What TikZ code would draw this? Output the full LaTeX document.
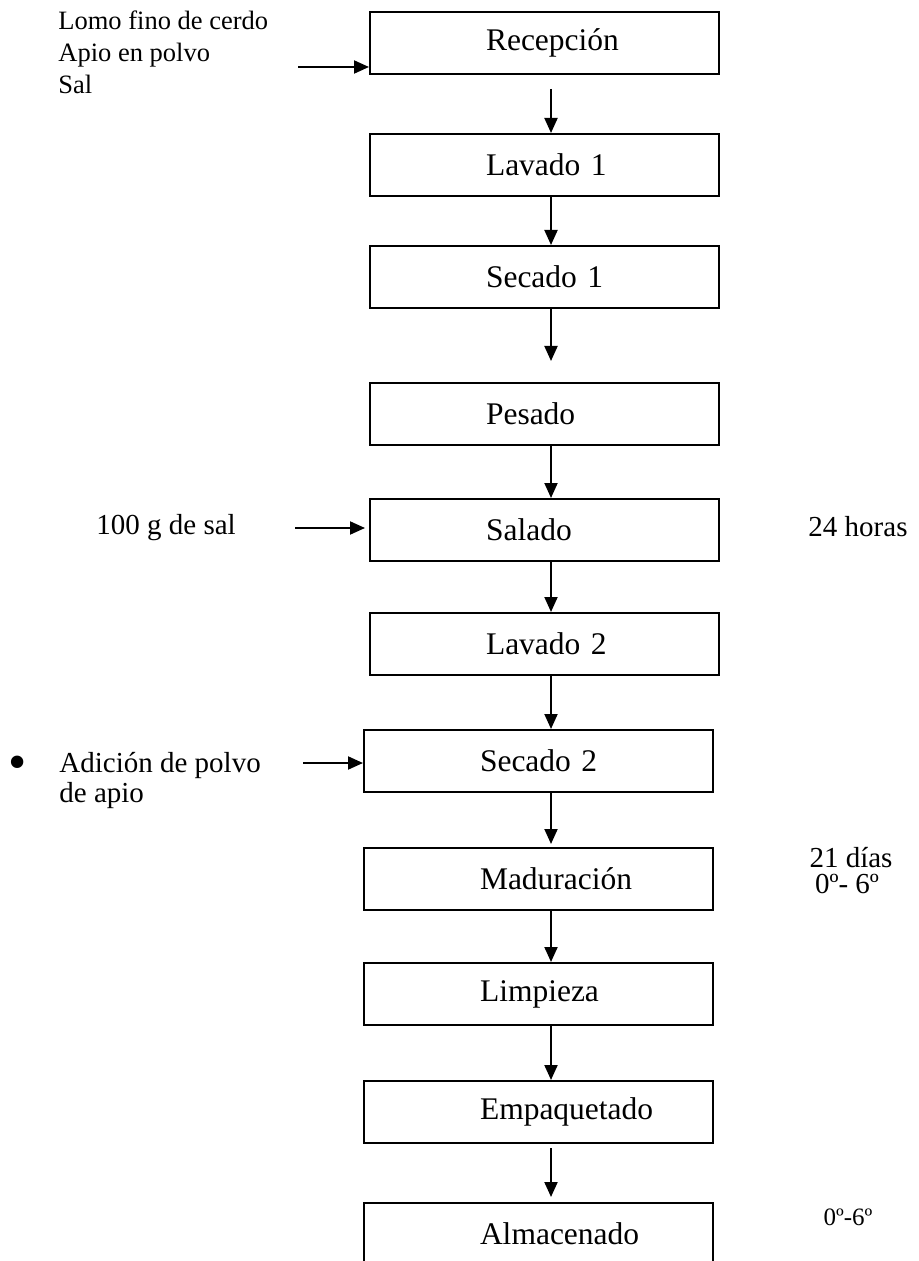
\documentclass[tikz,border=0pt]{standalone}
\usepackage{fontspec}
\setmainfont{Liberation Serif}
\usetikzlibrary{positioning,arrows.meta}

\begin{document}
\begin{tikzpicture}[
  x=0.5pt, y=-0.5pt,
  stepbox/.style = {
    rectangle, draw, line width=1pt, text width=174.5pt, inner xsep=0pt,
    minimum height=31pt, align=left, font=\fontsize{15.75}{19}\selectfont,
    execute at begin node=\hspace*{58pt},
  },
  side/.style = {inner sep=0pt, font=\fontsize{14.5}{15}\selectfont},
  arrow/.style = {-{Triangle[length=7.5pt,width=6.5pt]}, line width=1pt},
]
  \useasboundingbox (0,0) rectangle (919,1261);

  \node[stepbox]                               (recep) at (544.5,43) {Recepción};
  \node[stepbox, below=29pt of recep]          (lav1)  {Lavado 1};
  \node[stepbox, below=24pt of lav1]           (sec1)  {Secado 1};
  \node[stepbox, below=36.5pt of sec1]         (pes)   {Pesado};
  \node[stepbox, below=26pt of pes]            (sal)   {Salado};
  \node[stepbox, below=25pt of sal]            (lav2)  {Lavado 2};
  \node[stepbox, below=26.5pt of lav2, xshift=-3pt] (sec2) {Secado 2};
  \node[stepbox, below=27pt of sec2]           (mad)   {Maduración};
  \node[stepbox, below=25.5pt of mad]          (lim)   {Limpieza};
  \node[stepbox, below=27pt of lim]            (emp)   {Empaquetado};
  \node[stepbox, below=29pt of emp]            (alm)   {Almacenado};

  % main line
  \coordinate (col) at (551,0);
  \draw[arrow, shorten <=7pt] (recep.south -| col) -- (lav1.north -| col);
  \draw[arrow] (lav1.south -| col) -- (sec1.north -| col);
  \draw[arrow, shorten >=10.5pt] (sec1.south -| col) -- (pes.north -| col);
  \draw[arrow] (pes.south -| col) -- (sal.north -| col);
  \draw[arrow] (sal.south -| col) -- (lav2.north -| col);
  \draw[arrow] (lav2.south -| col) -- (sec2.north -| col);
  \draw[arrow, shorten >=1.5pt] (sec2.south -| col) -- (mad.north -| col);
  \draw[arrow] (mad.south -| col) -- (lim.north -| col);
  \draw[arrow] (lim.south -| col) -- (emp.north -| col);
  \draw[arrow, shorten <=2pt, shorten >=2.5pt] (emp.south -| col) -- (alm.north -| col);

  % inputs
  \node[side, anchor=north west, align=left, font=\fontsize{13.25}{16}\selectfont]
    (ingr) at (58,10) {Lomo fino de cerdo\\Apio en polvo\\Sal};
  \coordinate (inR) at (298,67);
  \draw[arrow] (inR) -- (inR -| recep.west);

  \node[side, anchor=west] (sal100) at (96,528) {100 g de sal};
  \coordinate (inS) at (295,528);
  \draw[arrow, shorten >=2pt] (inS) -- (inS -| sal.west);

  \node[side, font=\fontsize{26}{26}\selectfont] (bul) at (18,768) {•};
  \node[side, anchor=north west, align=left] (apio) at (59,752) {Adición de polvo\\de apio};
  \coordinate (inA) at (303,763);
  \draw[arrow] (inA) -- (inA -| sec2.west);

  % conditions
  \node[side] (t24) at (858,527) {24 horas};
  \node[side, anchor=base] (t21) at (851,867) {21 días};
  \node[side, anchor=base] (t21b) at (847,893) {0º- 6º};
  \node[side, anchor=base, font=\fontsize{12.5}{13}\selectfont] (t06) at (848,1225) {0º-6º};
\end{tikzpicture}
\end{document}
